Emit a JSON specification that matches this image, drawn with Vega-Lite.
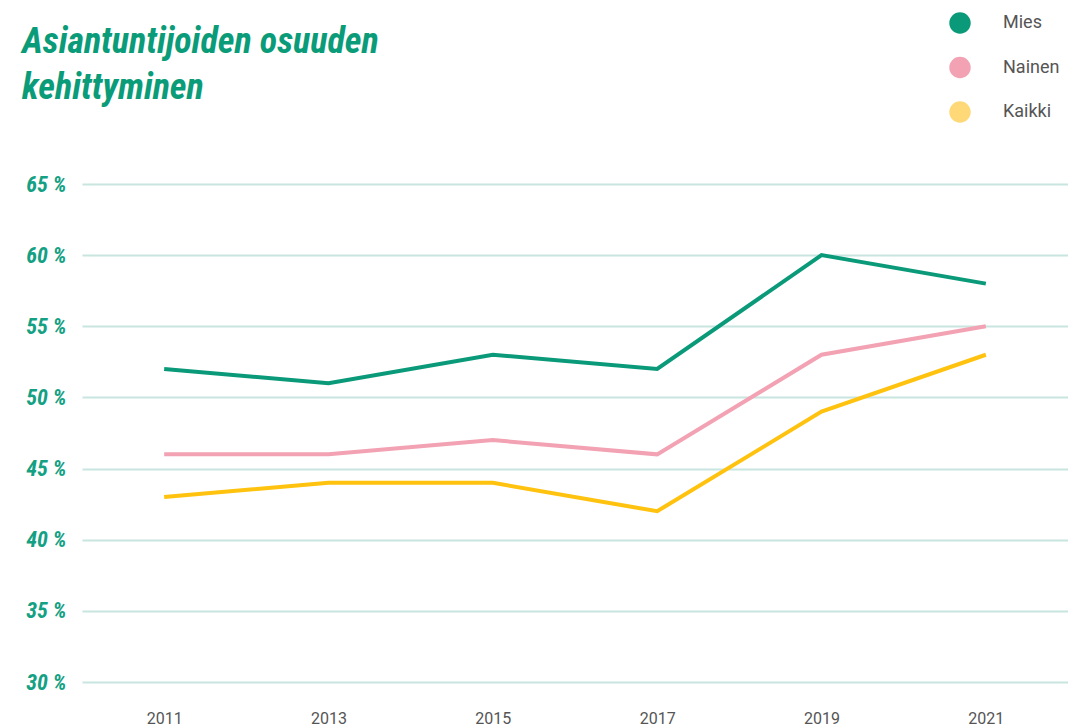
{
  "$schema": "https://vega.github.io/schema/vega-lite/v6.json",
  "autosize": "none",
  "width": 986,
  "height": 498,
  "padding": {"left": 82, "top": 184, "right": 0, "bottom": 45},
  "background": "white",
  "title": {
    "text": ["Asiantuntijoiden osuuden", "kehittyminen"],
    "anchor": "start",
    "frame": "group",
    "dx": -60,
    "dy": 123,
    "offset": 0,
    "font": "Roboto Condensed, Open Sans Condensed, Roboto, sans-serif",
    "fontSize": 36,
    "fontWeight": "bold",
    "fontStyle": "italic",
    "color": "#0A9B79",
    "lineHeight": 46,
    "baseline": "alphabetic"
  },
  "data": {
    "values": [
      {"vuosi": "2011", "ryhma": "Mies", "osuus": 52},
      {"vuosi": "2013", "ryhma": "Mies", "osuus": 51},
      {"vuosi": "2015", "ryhma": "Mies", "osuus": 53},
      {"vuosi": "2017", "ryhma": "Mies", "osuus": 52},
      {"vuosi": "2019", "ryhma": "Mies", "osuus": 60},
      {"vuosi": "2021", "ryhma": "Mies", "osuus": 58},
      {"vuosi": "2011", "ryhma": "Nainen", "osuus": 46},
      {"vuosi": "2013", "ryhma": "Nainen", "osuus": 46},
      {"vuosi": "2015", "ryhma": "Nainen", "osuus": 47},
      {"vuosi": "2017", "ryhma": "Nainen", "osuus": 46},
      {"vuosi": "2019", "ryhma": "Nainen", "osuus": 53},
      {"vuosi": "2021", "ryhma": "Nainen", "osuus": 55},
      {"vuosi": "2011", "ryhma": "Kaikki", "osuus": 43},
      {"vuosi": "2013", "ryhma": "Kaikki", "osuus": 44},
      {"vuosi": "2015", "ryhma": "Kaikki", "osuus": 44},
      {"vuosi": "2017", "ryhma": "Kaikki", "osuus": 42},
      {"vuosi": "2019", "ryhma": "Kaikki", "osuus": 49},
      {"vuosi": "2021", "ryhma": "Kaikki", "osuus": 53}
    ]
  },
  "mark": {"type": "line", "strokeWidth": 4, "strokeJoin": "miter", "strokeCap": "butt"},
  "encoding": {
    "x": {
      "field": "vuosi",
      "type": "ordinal",
      "scale": {"type": "point", "padding": 0.5},
      "axis": {
        "title": null,
        "domain": false,
        "ticks": false,
        "labelAngle": 0,
        "labelFont": "Roboto",
        "labelFontSize": 16,
        "labelColor": "#555555",
        "labelPadding": 28,
        "labelBaseline": "top"
      }
    },
    "y": {
      "field": "osuus",
      "type": "quantitative",
      "scale": {"domain": [30, 65], "nice": false, "zero": false},
      "axis": {
        "title": null,
        "values": [30, 35, 40, 45, 50, 55, 60, 65],
        "labelExpr": "datum.value + ' %'",
        "domain": false,
        "ticks": false,
        "grid": true,
        "gridColor": "#C8E6DF",
        "gridWidth": 2,
        "labelFont": "Roboto Condensed, Open Sans Condensed, Roboto, sans-serif",
        "labelFontSize": 22,
        "labelFontWeight": "bold",
        "labelFontStyle": "italic",
        "labelColor": "#13A083",
        "labelPadding": 16
      }
    },
    "color": {
      "field": "ryhma",
      "type": "nominal",
      "scale": {
        "domain": ["Mies", "Nainen", "Kaikki"],
        "range": ["#0A9A7A", "#F2A2B3", "#FFC20E"]
      },
      "legend": {
        "title": null,
        "orient": "none",
        "legendX": 867,
        "legendY": -172,
        "symbolType": "circle",
        "symbolSize": 460,
        "symbolStrokeWidth": 0,
        "symbolOpacity": 1,
        "labelFont": "Roboto",
        "labelFontSize": 18,
        "labelColor": "#555555",
        "labelOffset": 32,
        "rowPadding": 22.5,
        "padding": 0,
        "encode": {
          "symbols": {
            "update": {
              "fill": [
                {"test": "datum.value === 'Kaikki'", "value": "#FFD878"},
                {"scale": "color", "field": "value"}
              ],
              "stroke": {"value": "transparent"},
              "strokeWidth": {"value": 0},
              "opacity": {"value": 1}
            }
          }
        }
      }
    }
  },
  "config": {
    "view": {"stroke": null}
  }
}
